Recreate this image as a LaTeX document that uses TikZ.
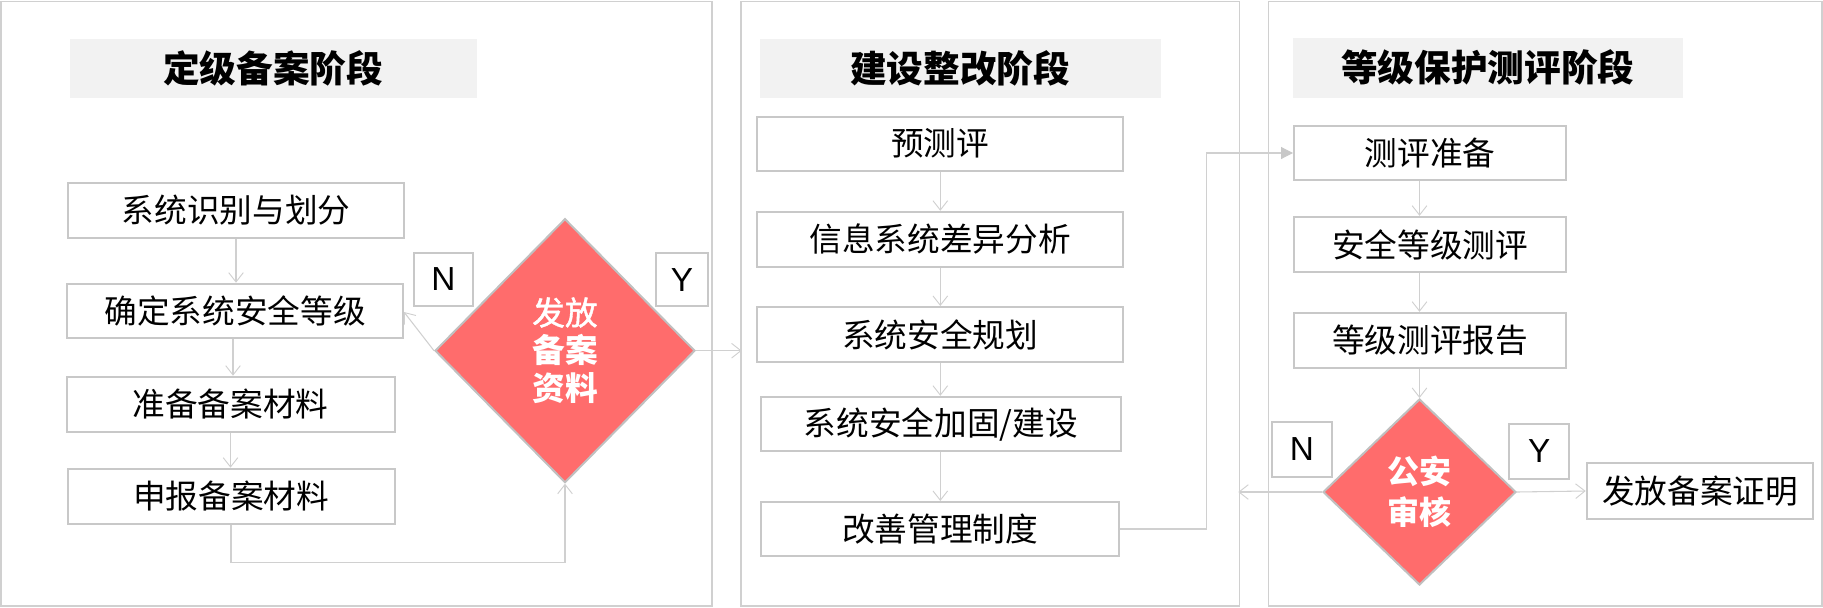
\documentclass[tikz,border=0pt]{standalone}
\usepackage{fontspec}
\setmainfont{Noto Sans CJK SC}
\newfontfamily\latinsans{Liberation Sans}
\newfontfamily\cjkmedium[FakeBold=1.3]{Noto Sans CJK SC}
\usetikzlibrary{shapes.geometric,arrows.meta,calc}
\definecolor{panelgray}{HTML}{D0D0D0}
\definecolor{boxgray}{HTML}{C8C8C8}
\definecolor{linegray}{HTML}{D0D0D0}
\definecolor{titlefill}{HTML}{F2F2F2}
\definecolor{diamondred}{HTML}{FF6C6C}
\definecolor{diamondedge}{HTML}{C0C0C0}
\tikzset{
  panelbox/.style={draw=panelgray, line width=1.2pt, inner sep=0pt},
  titlebar/.style={fill=titlefill, inner sep=0pt, font=\fontsize{27.5pt}{30pt}\selectfont\bfseries},
  stepbox/.style={draw=boxgray, line width=1.5pt, fill=white, inner sep=0pt, font=\fontsize{24.5pt}{28pt}\selectfont},
  labelbox/.style={draw=boxgray, line width=1.5pt, fill=white, inner sep=0pt, font=\latinsans\fontsize{25pt}{28pt}\selectfont},
  decision/.style={diamond, draw=diamondedge, line width=1.5pt, fill=diamondred, inner sep=0pt, text=white, align=center},
  arr/.style={draw=linegray, line width=0.8pt, -{Straight Barb[length=7pt,width=11pt,line width=0.7pt]}},
  filledarr/.style={draw=linegray, line width=0.8pt, -{Triangle[length=9pt,width=9pt,fill=boxgray,color=boxgray]}},
}
\begin{document}
\begin{tikzpicture}[x=0.75pt,y=-0.75pt]
\useasboundingbox (0,0) rectangle (1823,607);
% panels
\node[panelbox, minimum width=711.5*0.75pt, minimum height=604.5*0.75pt] (P1) at (356.5,303.8) {};
\node[panelbox, minimum width=498.5*0.75pt, minimum height=604.5*0.75pt] (P2) at (990.2,303.8) {};
\node[panelbox, minimum width=553.5*0.75pt, minimum height=604.5*0.75pt] (P3) at (1545.3,303.8) {};
% titles
\node[titlebar, minimum width=406.7*0.75pt, minimum height=58.7*0.75pt] (T1) at (273.3,68.3) {定级备案阶段};
\node[titlebar, minimum width=401*0.75pt, minimum height=58.7*0.75pt] (T2) at (960.3,68.3) {建设整改阶段};
\node[titlebar, minimum width=389.3*0.75pt, minimum height=59.7*0.75pt] (T3) at (1487.9,67.8) {等级保护测评阶段};
% panel 1
\node[stepbox, minimum width=336.6*0.75pt, minimum height=55.3*0.75pt] (b1) at (236,210.3) {系统识别与划分};
\node[stepbox, minimum width=336*0.75pt, minimum height=54*0.75pt] (b2) at (235,310.7) {确定系统安全等级};
\node[stepbox, minimum width=328*0.75pt, minimum height=55*0.75pt] (b3) at (230.5,404.2) {准备备案材料};
\node[stepbox, minimum width=327*0.75pt, minimum height=55*0.75pt] (b4) at (231,496.2) {申报备案材料};
\node[decision, minimum width=260*0.75pt, minimum height=264*0.75pt, font=\fontsize{24.5pt}{28.5pt}\selectfont] (d1) at (565,350.7)
  {{\cjkmedium 发放}\\{\bfseries 备案}\\{\bfseries 资料}};
\node[labelbox, minimum width=58.7*0.75pt, minimum height=53.2*0.75pt] (n1) at (443.3,279.4) {N};
\node[labelbox, minimum width=52.3*0.75pt, minimum height=53.5*0.75pt] (y1) at (682,279.6) {Y};
% panel 2
\node[stepbox, minimum width=365.8*0.75pt, minimum height=54.2*0.75pt] (p1) at (940.3,143.6) {预测评};
\node[stepbox, minimum width=365.8*0.75pt, minimum height=55*0.75pt] (p2) at (940.3,239.3) {信息系统差异分析};
\node[stepbox, minimum width=365.8*0.75pt, minimum height=55*0.75pt] (p3) at (940.3,334.5) {系统安全规划};
\node[stepbox, minimum width=360.2*0.75pt, minimum height=54.6*0.75pt] (p4) at (941,424.1) {系统安全加固/建设};
\node[stepbox, minimum width=358.4*0.75pt, minimum height=54*0.75pt] (p5) at (940.1,529) {改善管理制度};
% panel 3
\node[stepbox, minimum width=272*0.75pt, minimum height=54.2*0.75pt] (q1) at (1430,153) {测评准备};
\node[stepbox, minimum width=272*0.75pt, minimum height=55.4*0.75pt] (q2) at (1430,244.5) {安全等级测评};
\node[stepbox, minimum width=272*0.75pt, minimum height=55*0.75pt] (q3) at (1430,340.3) {等级测评报告};
\node[decision, minimum width=193*0.75pt, minimum height=186*0.75pt, font=\fontsize{24pt}{30.75pt}\selectfont\bfseries] (d2) at (1419.5,492)
  {公安\\审核};
\node[labelbox, minimum width=60.3*0.75pt, minimum height=55*0.75pt] (n2) at (1301.8,449.2) {N};
\node[labelbox, minimum width=59.7*0.75pt, minimum height=54.7*0.75pt] (y2) at (1539.2,451.3) {Y};
\node[stepbox, minimum width=226.6*0.75pt, minimum height=55.4*0.75pt] (r) at (1700,491) {发放备案证明};
% connectors panel 1
\draw[arr] (b1.south) -- (b1.south |- b2.north);
\draw[arr] ([xshift=-1.5pt]b2.south) -- ([xshift=-1.5pt]b2.south |- b3.north);
\draw[arr] (b3.south) -- (b3.south |- b4.north);
\coordinate (c1) at ($(b4.south)+(0,37.5)$);
\draw[arr] (b4.south) -- (c1) -| (d1.south);
\draw[arr] (d1.west) -- ([yshift=-1pt]b2.east);
\draw[arr] (d1.east) -- ($(d1.east -| P2.west)+(1.5,0)$);
% connectors panel 2
\draw[arr] (p1.south) -- (p1.south |- p2.north);
\draw[arr] (p2.south) -- (p2.south |- p3.north);
\draw[arr] (p3.south) -- (p3.south |- p4.north);
\draw[arr] (p4.south -| p3.south) -- (p3.south |- p5.north);
\coordinate (c2) at (1206.5,529);
\draw[filledarr] (p5.east) -- (c2) |- (q1.west);
% connectors panel 3
\draw[arr] (q1.south -| d2.north) -- (q2.north -| d2.north);
\draw[arr] (q2.south -| d2.north) -- (q3.north -| d2.north);
\draw[arr] (q3.south -| d2.north) -- (d2.north);
\draw[arr] (d2.west) -- ($(d2.west -| P2.east)+(-2,0)$);
\draw[arr] (d2.east) -- (r.west);
\end{tikzpicture}
\end{document}
